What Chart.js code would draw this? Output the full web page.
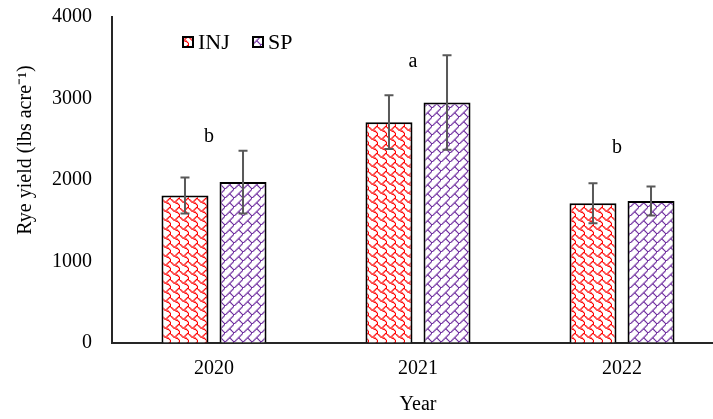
<!DOCTYPE html>
<html>
<head>
<meta charset="utf-8">
<script src="https://cdn.jsdelivr.net/npm/chart.js@4"></script>
<style>
  html, body { margin: 0; padding: 0; background: #fff; overflow: hidden; }
  #wrap { width: 724px; height: 419px; position: relative; }
</style>
</head>
<body>
<div id="wrap"><canvas id="c" width="724" height="419"></canvas></div>
<script>
// ---- data ----
const years = ['2020', '2021', '2022'];
const injYield = [1810, 2710, 1715];
const spYield = [1975, 2950, 1742];
const injErr = [220, 330, 245];
const spErr = [385, 580, 178];
const letters = ['b', 'a', 'b'];
const letterY = [2466, 3387, 2331];
const seriesNames = ['INJ', 'SP'];
const yTicks = [0, 1000, 2000, 3000, 4000];
const yTitle = 'Rye yield (lbs acre\u207B\u00B9)';

// ---- patterns ----
function bitmapPattern(rows, color, tile) {
  const c = document.createElement('canvas');
  c.width = tile; c.height = tile;
  const g = c.getContext('2d');
  g.fillStyle = '#ffffff';
  g.fillRect(0, 0, tile, tile);
  g.fillStyle = color;
  const s = tile / 8;
  rows.forEach((r, y) => {
    for (let x = 0; x < 8; x++) {
      if (r & (0x80 >> x)) g.fillRect(x * s, y * s, s + 0.3, s + 0.3);
    }
  });
  return g.createPattern(c, 'repeat');
}
const shingle = [0x03, 0x84, 0x48, 0x30, 0x0c, 0x02, 0x01, 0x01];
const diagBrick = [0x01, 0x02, 0x04, 0x08, 0x18, 0x24, 0x42, 0x81];
const injPattern = bitmapPattern(shingle, '#ff0000', 9);
const spPattern = bitmapPattern(diagBrick, '#7030a0', 9);

const serif = "'Liberation Serif', 'Times New Roman', serif";

const extras = {
  id: 'extras',
  afterDatasetsDraw(chart) {
    const ctx = chart.ctx;
    const ys = chart.scales.y, xs = chart.scales.x;
    const errs = [injErr, spErr];
    const vals = [injYield, spYield];
    ctx.save();
    ctx.strokeStyle = '#595959';
    ctx.lineWidth = 2;
    [0, 1].forEach(d => {
      const meta = chart.getDatasetMeta(d);
      meta.data.forEach((el, i) => {
        const x = el.x;
        const t = ys.getPixelForValue(vals[d][i] + errs[d][i]);
        const b = ys.getPixelForValue(vals[d][i] - errs[d][i]);
        ctx.beginPath();
        ctx.moveTo(x, t); ctx.lineTo(x, b);
        ctx.moveTo(x - 4.5, t); ctx.lineTo(x + 4.5, t);
        ctx.moveTo(x - 4.5, b); ctx.lineTo(x + 4.5, b);
        ctx.stroke();
      });
    });
    // significance letters
    ctx.fillStyle = '#000';
    ctx.font = '20px ' + serif;
    ctx.textAlign = 'center';
    ctx.textBaseline = 'alphabetic';
    letters.forEach((l, i) => {
      ctx.fillText(l, xs.getPixelForValue(i) - 5, ys.getPixelForValue(letterY[i]));
    });
    // legend
    const pats = [injPattern, spPattern];
    const lx = [183, 253];
    ctx.textAlign = 'left';
    ctx.textBaseline = 'middle';
    seriesNames.forEach((n, i) => {
      ctx.fillStyle = pats[i];
      ctx.fillRect(lx[i], 37, 10, 10);
      ctx.strokeStyle = '#000';
      ctx.lineWidth = 2;
      ctx.strokeRect(lx[i], 37, 10, 10);
      ctx.fillStyle = '#000';
      ctx.font = '22px ' + serif;
      ctx.fillText(n, lx[i] + 15, 43);
    });
    // y-axis title (placed as in the original, above the plot centre)
    ctx.save();
    ctx.translate(26, 150);
    ctx.rotate(-Math.PI / 2);
    ctx.textAlign = 'center';
    ctx.textBaseline = 'middle';
    ctx.font = '20px ' + serif;
    ctx.fillText(yTitle, 0, 0);
    ctx.restore();
    ctx.restore();
  }
};

new Chart(document.getElementById('c'), {
  type: 'bar',
  data: {
    labels: years,
    datasets: [
      { label: seriesNames[0], data: injYield, backgroundColor: injPattern, borderColor: '#000', borderWidth: 2 },
      { label: seriesNames[1], data: spYield, backgroundColor: spPattern, borderColor: '#000', borderWidth: 2 }
    ]
  },
  options: {
    responsive: false,
    animation: false,
    devicePixelRatio: 1,
    layout: { padding: { top: 17, left: 0, right: 0, bottom: 0 } },
    plugins: { legend: { display: false }, tooltip: { enabled: false } },
    datasets: { bar: { categoryPercentage: 0.569, barPercentage: 0.81 } },
    scales: {
      x: {
        grid: { display: false, drawTicks: false },
        border: { display: true, color: '#262626', width: 2 },
        ticks: { color: '#000', font: { family: serif, size: 20 }, padding: 14 },
        title: { display: true, text: 'Year', color: '#000', font: { family: serif, size: 20 }, padding: { top: 4, bottom: 2 } },
        afterFit(s) { s.height = 76; }
      },
      y: {
        min: yTicks[0], max: yTicks[yTicks.length - 1],
        grid: { display: true, color: 'rgba(0,0,0,0)', drawOnChartArea: false, drawTicks: true, tickLength: 16 },
        border: { display: true, color: '#262626', width: 2 },
        afterBuildTicks(s) { s.ticks = yTicks.map(v => ({ value: v })); },
        ticks: { color: '#000', font: { family: serif, size: 20 }, padding: 4, callback: v => String(v) },
        title: { display: false },
        afterFit(s) { s.width = 112; }
      }
    }
  },
  plugins: [extras]
});
</script>
</body>
</html>
